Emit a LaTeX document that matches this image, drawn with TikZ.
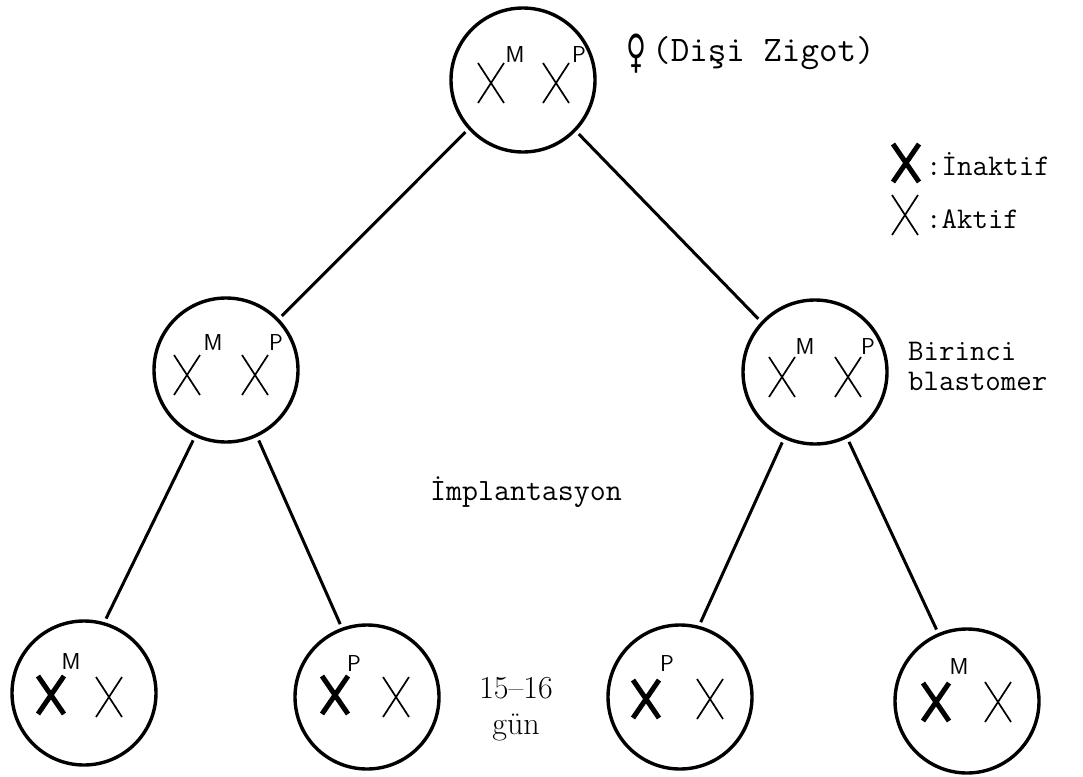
\documentclass[tikz,border=0pt]{standalone}
\usepackage{fontspec}
\newfontfamily\venusfont{DejaVu Sans}

\begin{document}
\begin{tikzpicture}[x=1pt,y=-1pt,
  cell/.style={circle,draw,line width=3.4pt,minimum size=144pt,inner sep=0pt},
  link/.style={line width=3pt,shorten <=4pt,shorten >=4pt},
  chrtag/.style={font=\sffamily\fontsize{23}{23}\selectfont,inner sep=0pt},
  mono/.style={font=\ttfamily\fontsize{30}{30}\selectfont,inner sep=0pt},
  thinx/.pic={\draw[line width=1.7pt] (-13,-20)--(13,20) (-13,20)--(13,-20);},
  boldx/.pic={\draw[line width=5pt] (-13,-19)--(13,19) (-13,19)--(13,-19);}]
  \useasboundingbox (0,0) rectangle (1083,776);
  % cells
  \node[cell] (zyg) at (523,80) {};
  \node[cell] (bl1) at (226,370) {};
  \node[cell] (bl2) at (815,372) {};
  \node[cell] (c1) at (84,693) {};
  \node[cell] (c2) at (367,697) {};
  \node[cell] (c3) at (680,697) {};
  \node[cell] (c4) at (967,701) {};
  % branches
  \draw[link] (zyg.222) -- (bl1.44);
  \draw[link] (zyg.316) -- (bl2.137);
  \draw[link] (bl1.245) -- (c1.74);
  \draw[link] (bl1.295) -- (c2.110);
  \draw[link] (bl2.245) -- (c3.75);
  \draw[link] (bl2.296) -- (c4.113);
  % chromosomes
  \pic at (491,83) {thinx}; \node[chrtag] (zygm) at (515,55) {M};
  \pic at (556,83) {thinx}; \node[chrtag] (zygp) at (579,55) {P};
  \pic at (187,375) {thinx}; \node[chrtag] (bl1m) at (213,343) {M};
  \pic at (255,375) {thinx}; \node[chrtag] (bl1p) at (276,343) {P};
  \pic at (782,377) {thinx}; \node[chrtag] (bl2m) at (805,347) {M};
  \pic at (848,377) {thinx}; \node[chrtag] (bl2p) at (868,347) {P};
  \pic at (51,695) {boldx}; \node[chrtag] (c1m) at (71,662) {M};
  \pic at (109,697) {thinx};
  \pic at (335,695) {boldx}; \node[chrtag] (c2p) at (354,664) {P};
  \pic at (396,697) {thinx};
  \pic at (646,699) {boldx}; \node[chrtag] (c3p) at (667,664) {P};
  \pic at (710,699) {thinx};
  \pic at (936,702) {boldx}; \node[chrtag] (c4m) at (959,667) {M};
  \pic at (998,702) {thinx};
  % labels
  \node[font=\venusfont\fontsize{34}{34}\selectfont,inner sep=0pt] (venus) at (636,54) {\scalebox{0.8}[1.35]{♀}};
  \node[font=\ttfamily\fontsize{36}{36}\selectfont,inner sep=0pt,anchor=base west] (zyglbl) at (652,62) {(Dişi Zigot)};
  \pic at (906,163) {boldx};
  \node[mono,anchor=base west] (inakt) at (926,175) {:İnaktif};
  \pic at (905,215) {thinx};
  \node[mono,anchor=base west] (akt) at (926,228) {:Aktif};
  \node[mono,align=left,anchor=north west] (blast) at (908,342) {Birinci\\blastomer};
  \node[font=\ttfamily\fontsize{31}{31}\selectfont,inner sep=0pt,anchor=base] (impl) at (526,500) {İmplantasyon};
  \node[font=\fontsize{32}{36}\selectfont,inner sep=0pt,align=center,anchor=north] (days) at (516,677) {15–16\\gün};
\end{tikzpicture}
\end{document}
